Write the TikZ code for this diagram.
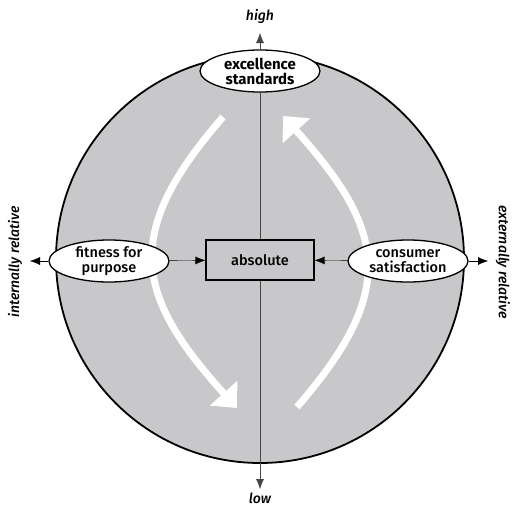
\documentclass[tikz,border=0pt]{standalone}
\usepackage{fontspec}
\setmainfont{Fira Sans}[UprightFont={* Medium}, ItalicFont={* Medium Italic}, BoldFont={* Bold}]
\usetikzlibrary{shapes.geometric,arrows.meta}
\definecolor{discgray}{RGB}{200,200,202}
\definecolor{axisgray}{RGB}{70,70,70}

\begin{document}
\begin{tikzpicture}[x=1pt, y=-1pt, >={Latex[length=10pt,width=8pt]},
    oval/.style={ellipse, draw, line width=1.3pt, fill=white, minimum width=120pt, minimum height=42pt, inner sep=0pt, align=center, font=\fontsize{14.5}{15}\selectfont},
    axislabel/.style={font=\itshape\fontsize{14}{15}\selectfont},
    flow/.style={line width=7pt, white, -{Triangle[length=20pt,width=36pt]}}]
    \useasboundingbox (0,0) rectangle (514,506);
    % Disc
    \filldraw[fill=discgray, line width=1.8pt] (260,259) circle (204);
    % Quadrant flows
    \draw[flow] (223,117) .. controls (122,233) and (134,294) .. (237,408);
    \draw[flow] (297,407) .. controls (398,291) and (386,230) .. (283,116);
    % Nodes
    \node[oval, font=\bfseries\fontsize{15}{15}\selectfont] (exc) at (260,71) {excellence\\standards};
    \node[oval] (fit) at (109,261) {fitness for\\purpose};
    \node[oval] (con) at (408,261) {consumer\\satisfaction};
    \node[draw, line width=1.3pt, fill=discgray, minimum width=108pt, minimum height=40pt, font=\fontsize{14.5}{15}\selectfont] (abs) at (260,260) {absolute};
    % Axis ends
    \coordinate (hi) at (260,33);
    \coordinate (lo) at (260,489);
    \coordinate (lt) at (30,261);
    \coordinate (rt) at (488,261);
    \draw[axisgray, thin] (exc) -- (abs);
    \draw[->, axisgray, thin] (exc) -- (hi);
    \draw[->, axisgray, thin] (abs) -- (lo);
    \draw[->] (fit) -- (lt);
    \draw[->] (fit) -- (abs);
    \draw[->] (con) -- (abs);
    \draw[->] (con) -- (rt);
    % Axis labels
    \node[axislabel] (high) at (260,16) {high};
    \node[axislabel] (low) at (260,498) {low};
    \node[axislabel, rotate=90] (intrel) at (15,262) {internally relative};
    \node[axislabel, rotate=-90] (extrel) at (503,262) {externally relative};
\end{tikzpicture}
\end{document}
